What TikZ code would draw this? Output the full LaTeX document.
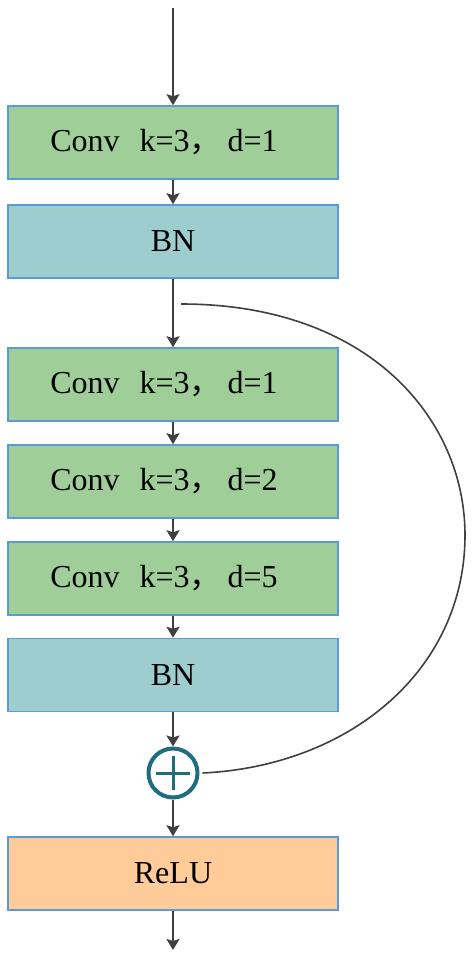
\documentclass[tikz,border=0pt]{standalone}
\usepackage{fontspec}
\setmainfont{Liberation Serif}
\newfontfamily\cjk{Noto Sans CJK SC}
\usetikzlibrary{arrows.meta}
\definecolor{cgreen}{RGB}{160,206,153}
\definecolor{cblue}{RGB}{158,205,208}
\definecolor{corange}{RGB}{255,204,153}
\definecolor{cborder}{RGB}{91,155,213}
\definecolor{carrow}{RGB}{64,64,64}
\definecolor{cteal}{RGB}{30,110,125}
\newcommand{\convlabel}[1]{Conv\hspace{20pt}k=3{\cjk ，}\hspace{6pt}d=#1\hspace*{18pt}}
\tikzset{
  layerbox/.style={draw=cborder, line width=1.5pt, minimum width=330pt, minimum height=73pt, inner sep=0pt, font=\fontsize{32}{36}\selectfont},
  convbox/.style={layerbox, fill=cgreen},
  bnbox/.style={layerbox, fill=cblue},
  relubox/.style={layerbox, fill=corange},
  flow/.style={draw=carrow, line width=2pt, -{Stealth[length=11pt,width=13pt,inset=2pt]}},
  skip/.style={draw=carrow, line width=1.6pt}
}
\begin{document}
\begin{tikzpicture}[x=1pt,y=-1pt]
\useasboundingbox (0,0) rectangle (472,958);
\node[convbox] (c1) at (173,142.5) {\convlabel{1}};
\node[bnbox] (bn1) at (173,241.5) {BN};
\node[convbox] (c2) at (173,384.5) {\convlabel{1}};
\node[convbox] (c3) at (173,481.5) {\convlabel{2}};
\node[convbox] (c4) at (173,578.5) {\convlabel{5}};
\node[bnbox] (bn2) at (173,675) {BN};
\node[circle, draw=cteal, line width=4pt, minimum size=49pt, inner sep=0pt] (add) at (173,773) {};
\draw[cteal, line width=3pt] ([xshift=-17pt]add.center) -- ([xshift=17pt]add.center);
\draw[cteal, line width=3pt] ([yshift=-17pt]add.center) -- ([yshift=17pt]add.center);
\node[relubox] (relu) at (173,873.5) {ReLU};
\coordinate (in) at (173,8);
\coordinate (out) at (173,950);
\coordinate (skipstart) at (181,304);
\draw[flow] (in) -- (c1.north);
\draw[flow] (c1) -- (bn1);
\draw[flow] (bn1) -- (c2);
\draw[flow] (c2) -- (c3);
\draw[flow] (c3) -- (c4);
\draw[flow] (c4) -- (bn2);
\draw[flow] (bn2) -- (add);
\draw[flow] (add) -- (relu);
\draw[flow] (relu.south) -- (out);
\draw[skip] (skipstart) .. controls (370,304) and (465,420) .. (465,535)
  .. controls (465,670) and (350,766) .. ([xshift=3pt]add.east);
\end{tikzpicture}
\end{document}
